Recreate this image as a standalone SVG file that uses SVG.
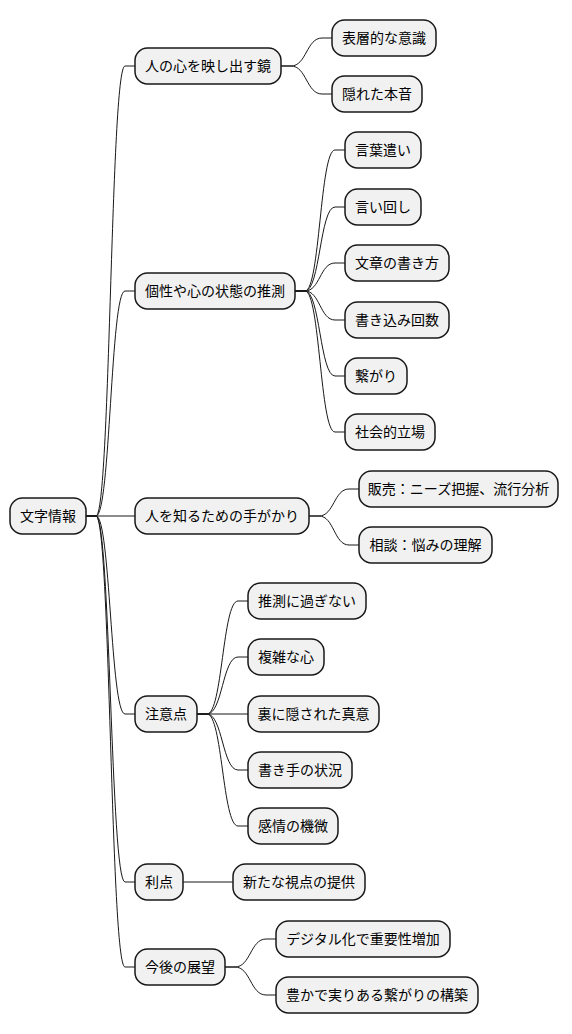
<svg xmlns="http://www.w3.org/2000/svg" width="572" height="1034" viewBox="0 0 572 1034">
<style>
.n rect{fill:#F1F1F1;stroke:#181818;stroke-width:1.5}
.n text{font-family:"Noto Sans CJK JP","Noto Sans",sans-serif;font-size:14px;fill:#000;text-anchor:middle}
#connectors path{fill:none;stroke:#181818;stroke-width:1}
</style>
<rect width="572" height="1034" fill="#FFFFFF"/>
<g id="connectors">
<path d="M86,516 L96,516 C110.5,516 110.5,66 125,66 L135,66"/>
<path d="M86,516 L96,516 C110.5,516 110.5,291 125,291 L135,291"/>
<path d="M86,516 L135,516"/>
<path d="M86,516 L96,516 C110.5,516 110.5,714 125,714 L135,714"/>
<path d="M86,516 L96,516 C110.5,516 110.5,882 125,882 L135,882"/>
<path d="M86,516 L96,516 C110.5,516 110.5,967 125,967 L135,967"/>
<path d="M281,66 L291,66 C306.5,66 306.5,38 322,38 L332,38"/>
<path d="M281,66 L291,66 C306.5,66 306.5,94 322,94 L332,94"/>
<path d="M295,291 L305,291 C320,291 320,150 335,150 L345,150"/>
<path d="M295,291 L305,291 C320,291 320,207 335,207 L345,207"/>
<path d="M295,291 L305,291 C320,291 320,263 335,263 L345,263"/>
<path d="M295,291 L305,291 C320,291 320,320 335,320 L345,320"/>
<path d="M295,291 L305,291 C320,291 320,376 335,376 L345,376"/>
<path d="M295,291 L305,291 C320,291 320,432 335,432 L345,432"/>
<path d="M309,516 L319,516 C334,516 334,489 349,489 L359,489"/>
<path d="M309,516 L319,516 C334,516 334,545 349,545 L359,545"/>
<path d="M197,714 L207,714 C222.5,714 222.5,601 238,601 L248,601"/>
<path d="M197,714 L207,714 C222.5,714 222.5,657 238,657 L248,657"/>
<path d="M197,714 L248,714"/>
<path d="M197,714 L207,714 C222.5,714 222.5,770 238,770 L248,770"/>
<path d="M197,714 L207,714 C222.5,714 222.5,826 238,826 L248,826"/>
<path d="M183,882 L233,882"/>
<path d="M225,967 L235,967 C250.5,967 250.5,939 266,939 L276,939"/>
<path d="M225,967 L235,967 C250.5,967 250.5,995 266,995 L276,995"/>
</g>
<g id="root" class="n"><rect x="10" y="498" width="76" height="36" rx="12.5"/><text x="48" y="521">文字情報</text></g>
<g id="n1" class="n"><rect x="135" y="48" width="146" height="36" rx="12.5"/><text x="208" y="71">人の心を映し出す鏡</text></g>
<g id="n1a" class="n"><rect x="332" y="20" width="104" height="36" rx="12.5"/><text x="384" y="43">表層的な意識</text></g>
<g id="n1b" class="n"><rect x="332" y="76" width="90" height="36" rx="12.5"/><text x="377" y="99">隠れた本音</text></g>
<g id="n2" class="n"><rect x="135" y="273" width="160" height="36" rx="12.5"/><text x="215" y="296">個性や心の状態の推測</text></g>
<g id="n2a" class="n"><rect x="345" y="132" width="76" height="36" rx="12.5"/><text x="383" y="155">言葉遣い</text></g>
<g id="n2b" class="n"><rect x="345" y="189" width="76" height="36" rx="12.5"/><text x="383" y="212">言い回し</text></g>
<g id="n2c" class="n"><rect x="345" y="245" width="104" height="36" rx="12.5"/><text x="397" y="268">文章の書き方</text></g>
<g id="n2d" class="n"><rect x="345" y="302" width="104" height="36" rx="12.5"/><text x="397" y="325">書き込み回数</text></g>
<g id="n2e" class="n"><rect x="345" y="358" width="62" height="36" rx="12.5"/><text x="376" y="381">繋がり</text></g>
<g id="n2f" class="n"><rect x="345" y="414" width="90" height="36" rx="12.5"/><text x="390" y="437">社会的立場</text></g>
<g id="n3" class="n"><rect x="135" y="498" width="174" height="36" rx="12.5"/><text x="222" y="521">人を知るための手がかり</text></g>
<g id="n3a" class="n"><rect x="359" y="471" width="199" height="36" rx="12.5"/><text x="458.5" y="494">販売：ニーズ把握、流行分析</text></g>
<g id="n3b" class="n"><rect x="359" y="527" width="133" height="36" rx="12.5"/><text x="425.5" y="550">相談：悩みの理解</text></g>
<g id="n4" class="n"><rect x="135" y="696" width="62" height="36" rx="12.5"/><text x="166" y="719">注意点</text></g>
<g id="n4a" class="n"><rect x="248" y="583" width="118" height="36" rx="12.5"/><text x="307" y="606">推測に過ぎない</text></g>
<g id="n4b" class="n"><rect x="248" y="639" width="76" height="36" rx="12.5"/><text x="286" y="662">複雑な心</text></g>
<g id="n4c" class="n"><rect x="248" y="696" width="131" height="36" rx="12.5"/><text x="313.5" y="719">裏に隠された真意</text></g>
<g id="n4d" class="n"><rect x="248" y="752" width="104" height="36" rx="12.5"/><text x="300" y="775">書き手の状況</text></g>
<g id="n4e" class="n"><rect x="248" y="808" width="90" height="36" rx="12.5"/><text x="293" y="831">感情の機微</text></g>
<g id="n5" class="n"><rect x="135" y="864" width="48" height="36" rx="12.5"/><text x="159" y="887">利点</text></g>
<g id="n5a" class="n"><rect x="233" y="864" width="132" height="36" rx="12.5"/><text x="299" y="887">新たな視点の提供</text></g>
<g id="n6" class="n"><rect x="135" y="949" width="90" height="36" rx="12.5"/><text x="180" y="972">今後の展望</text></g>
<g id="n6a" class="n"><rect x="276" y="921" width="174" height="36" rx="12.5"/><text x="363" y="944">デジタル化で重要性増加</text></g>
<g id="n6b" class="n"><rect x="276" y="977" width="202" height="36" rx="12.5"/><text x="377" y="1000">豊かで実りある繋がりの構築</text></g>
</svg>
